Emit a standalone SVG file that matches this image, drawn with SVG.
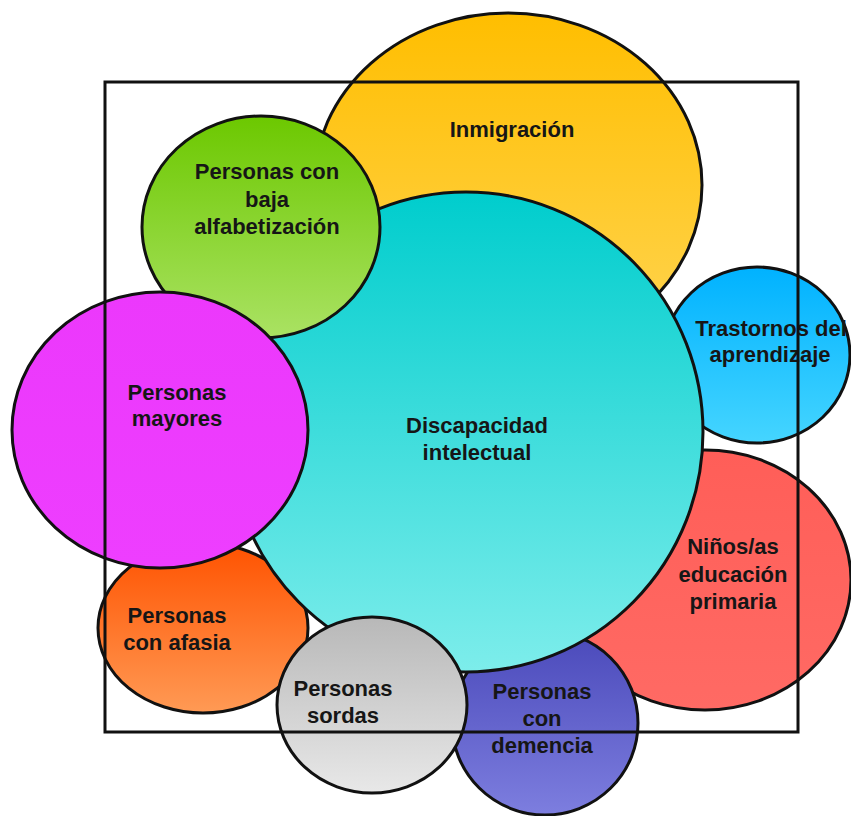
<svg xmlns="http://www.w3.org/2000/svg" width="851" height="816" viewBox="0 0 851 816">
<defs>
<linearGradient id="gYellow" x1="0" y1="0" x2="0" y2="1"><stop offset="0" stop-color="#FFBE00"/><stop offset="1" stop-color="#FFD553"/></linearGradient>
<linearGradient id="gGreen" x1="0" y1="0" x2="0" y2="1"><stop offset="0" stop-color="#6CC800"/><stop offset="1" stop-color="#AAE263"/></linearGradient>
<linearGradient id="gMagenta" x1="0" y1="0" x2="0" y2="1"><stop offset="0" stop-color="#EC38FC"/><stop offset="1" stop-color="#EE3EFF"/></linearGradient>
<linearGradient id="gCyan" x1="0" y1="0" x2="0" y2="1"><stop offset="0" stop-color="#00CDCD"/><stop offset="1" stop-color="#7DEDEB"/></linearGradient>
<linearGradient id="gBlue" x1="0" y1="0" x2="0" y2="1"><stop offset="0" stop-color="#00B2FF"/><stop offset="1" stop-color="#45D5FF"/></linearGradient>
<linearGradient id="gRed" x1="0" y1="0" x2="0" y2="1"><stop offset="0" stop-color="#FF5E58"/><stop offset="1" stop-color="#FF6A64"/></linearGradient>
<linearGradient id="gIndigo" x1="0" y1="0" x2="0" y2="1"><stop offset="0" stop-color="#4A49BA"/><stop offset="1" stop-color="#7D7EDF"/></linearGradient>
<linearGradient id="gGrey" x1="0" y1="0" x2="0" y2="1"><stop offset="0" stop-color="#B8B8B8"/><stop offset="1" stop-color="#E8E8E8"/></linearGradient>
<linearGradient id="gOrange" x1="0" y1="0" x2="0" y2="1"><stop offset="0" stop-color="#FF5200"/><stop offset="1" stop-color="#FF9A55"/></linearGradient>
</defs>
<style>
.shape{stroke:#111;stroke-width:3}
.lbl{font-family:"Liberation Sans",Arial,sans-serif;font-weight:bold;font-size:22px;fill:#161616;text-anchor:middle}
.frame{fill:none;stroke:#111;stroke-width:3}
</style>
<rect width="851" height="816" fill="#fff"/>
<g id="inmigracion">
<ellipse class="shape" cx="508" cy="185" rx="194" ry="172" fill="url(#gYellow)"/>
<text class="lbl" x="512" y="137">Inmigración</text>
</g>
<g id="trastornos">
<ellipse class="shape" cx="757" cy="355" rx="93" ry="88" fill="url(#gBlue)"/>
<text class="lbl" x="771" y="336">Trastornos del</text>
<text class="lbl" x="770" y="362">aprendizaje</text>
</g>
<g id="ninos">
<ellipse class="shape" cx="705" cy="580" rx="146" ry="130" fill="url(#gRed)"/>
<text class="lbl" x="733" y="554">Niños/as</text>
<text class="lbl" x="733" y="582">educación</text>
<text class="lbl" x="733" y="609">primaria</text>
</g>
<g id="demencia">
<ellipse class="shape" cx="545" cy="723" rx="93" ry="92" fill="url(#gIndigo)"/>
<text class="lbl" x="542" y="699">Personas</text>
<text class="lbl" x="542" y="726">con</text>
<text class="lbl" x="542" y="753">demencia</text>
</g>
<g id="afasia">
<ellipse class="shape" cx="203" cy="628" rx="105" ry="85" fill="url(#gOrange)"/>
<text class="lbl" x="177" y="623">Personas</text>
<text class="lbl" x="177" y="650">con afasia</text>
</g>
<g id="discapacidad">
<ellipse class="shape" cx="466" cy="432" rx="237" ry="240" fill="url(#gCyan)"/>
<text class="lbl" x="477" y="433">Discapacidad</text>
<text class="lbl" x="477" y="460">intelectual</text>
</g>
<g id="alfabetizacion">
<ellipse class="shape" cx="261" cy="227" rx="119" ry="111" fill="url(#gGreen)"/>
<text class="lbl" x="267" y="179">Personas con</text>
<text class="lbl" x="267" y="207">baja</text>
<text class="lbl" x="267" y="234">alfabetización</text>
</g>
<g id="mayores">
<ellipse class="shape" cx="160" cy="430" rx="148" ry="138" fill="url(#gMagenta)"/>
<text class="lbl" x="177" y="400">Personas</text>
<text class="lbl" x="177" y="426">mayores</text>
</g>
<g id="sordas">
<ellipse class="shape" cx="372" cy="705" rx="95" ry="88" fill="url(#gGrey)"/>
<text class="lbl" x="343" y="696">Personas</text>
<text class="lbl" x="343" y="723">sordas</text>
</g>
<g id="connectors">
<rect class="frame" x="105" y="82" width="693" height="650"/>
</g>
</svg>
